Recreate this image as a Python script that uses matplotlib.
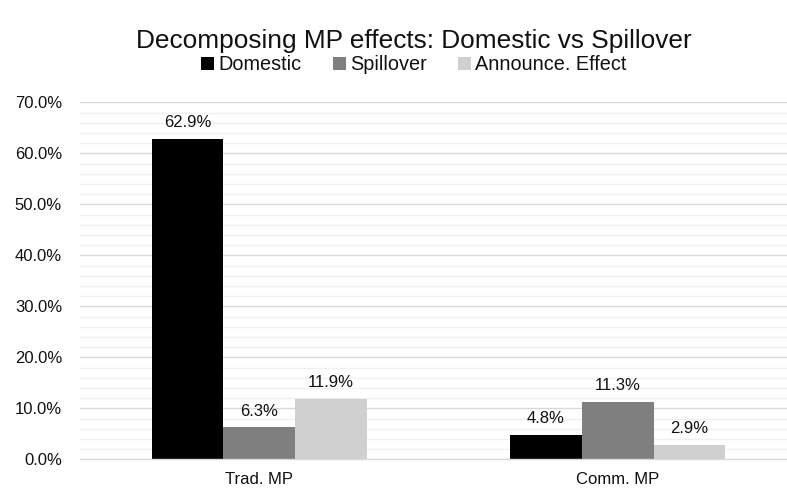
import numpy as np
import matplotlib
matplotlib.use("Agg")
import matplotlib.pyplot as plt
from matplotlib.ticker import MultipleLocator, FuncFormatter

plt.rcParams['font.family'] = ['Liberation Sans', 'DejaVu Sans']

categories = ["Trad. MP", "Comm. MP"]
series = ["Domestic", "Spillover", "Announce. Effect"]
domestic = [62.9, 4.8]
spillover = [6.3, 11.3]
announce = [11.9, 2.9]
colors = ["#000000", "#7f7f7f", "#d0d0d0"]
txt = "#111111"

fig = plt.figure(figsize=(7.87, 4.91), dpi=100)
ax = fig.add_axes([80 / 787, 1 - 459.3 / 491, 717 / 787, 357 / 491])

x = np.arange(len(categories))
w = 0.2
for i, (name, vals) in enumerate(zip(series, [domestic, spillover, announce])):
    bars = ax.bar(x + (i - 1) * w, vals, width=w, color=colors[i], label=name, zorder=3)
    for b, v in zip(bars, vals):
        ax.annotate(f"{v:.1f}%", (b.get_x() + b.get_width() / 2, v),
                    xytext=(0, 6), textcoords="offset points",
                    ha="center", va="bottom", fontsize=12, color=txt)

ax.set_xlim(-0.5, 1.5)
ax.set_ylim(0, 70)
ax.yaxis.set_major_locator(MultipleLocator(10))
ax.yaxis.set_minor_locator(MultipleLocator(2))
ax.yaxis.set_major_formatter(FuncFormatter(lambda v, p: f"{v:.1f}%"))
ax.grid(axis="y", which="major", color="#d9d9d9", linewidth=1, zorder=0)
ax.grid(axis="y", which="minor", color="#f0f0f0", linewidth=1, zorder=0)
ax.set_xticks(x)
ax.set_xticklabels(categories)
ax.tick_params(axis="both", which="both", length=0, labelsize=12, labelcolor=txt)
ax.tick_params(axis="y", pad=13)
ax.tick_params(axis="x", pad=9)
for s in ["top", "right", "left"]:
    ax.spines[s].set_visible(False)
ax.spines["bottom"].set_color("#d9d9d9")
ax.spines["bottom"].set_linewidth(1)
ax.spines["bottom"].set_zorder(4)

fig.text(414 / 787, 1 - 41 / 491, "Decomposing MP effects: Domestic vs Spillover",
         ha="center", va="center", fontsize=18.9, color=txt)
fig.legend(loc="center", bbox_to_anchor=(414 / 787, 1 - 65 / 491), ncol=3, frameon=False,
           fontsize=14.3, handlelength=0.65, handleheight=0.65, handletextpad=0.2,
           columnspacing=1.6, labelcolor=txt, borderaxespad=0, borderpad=0)

fig.savefig("out.png", dpi=100)
